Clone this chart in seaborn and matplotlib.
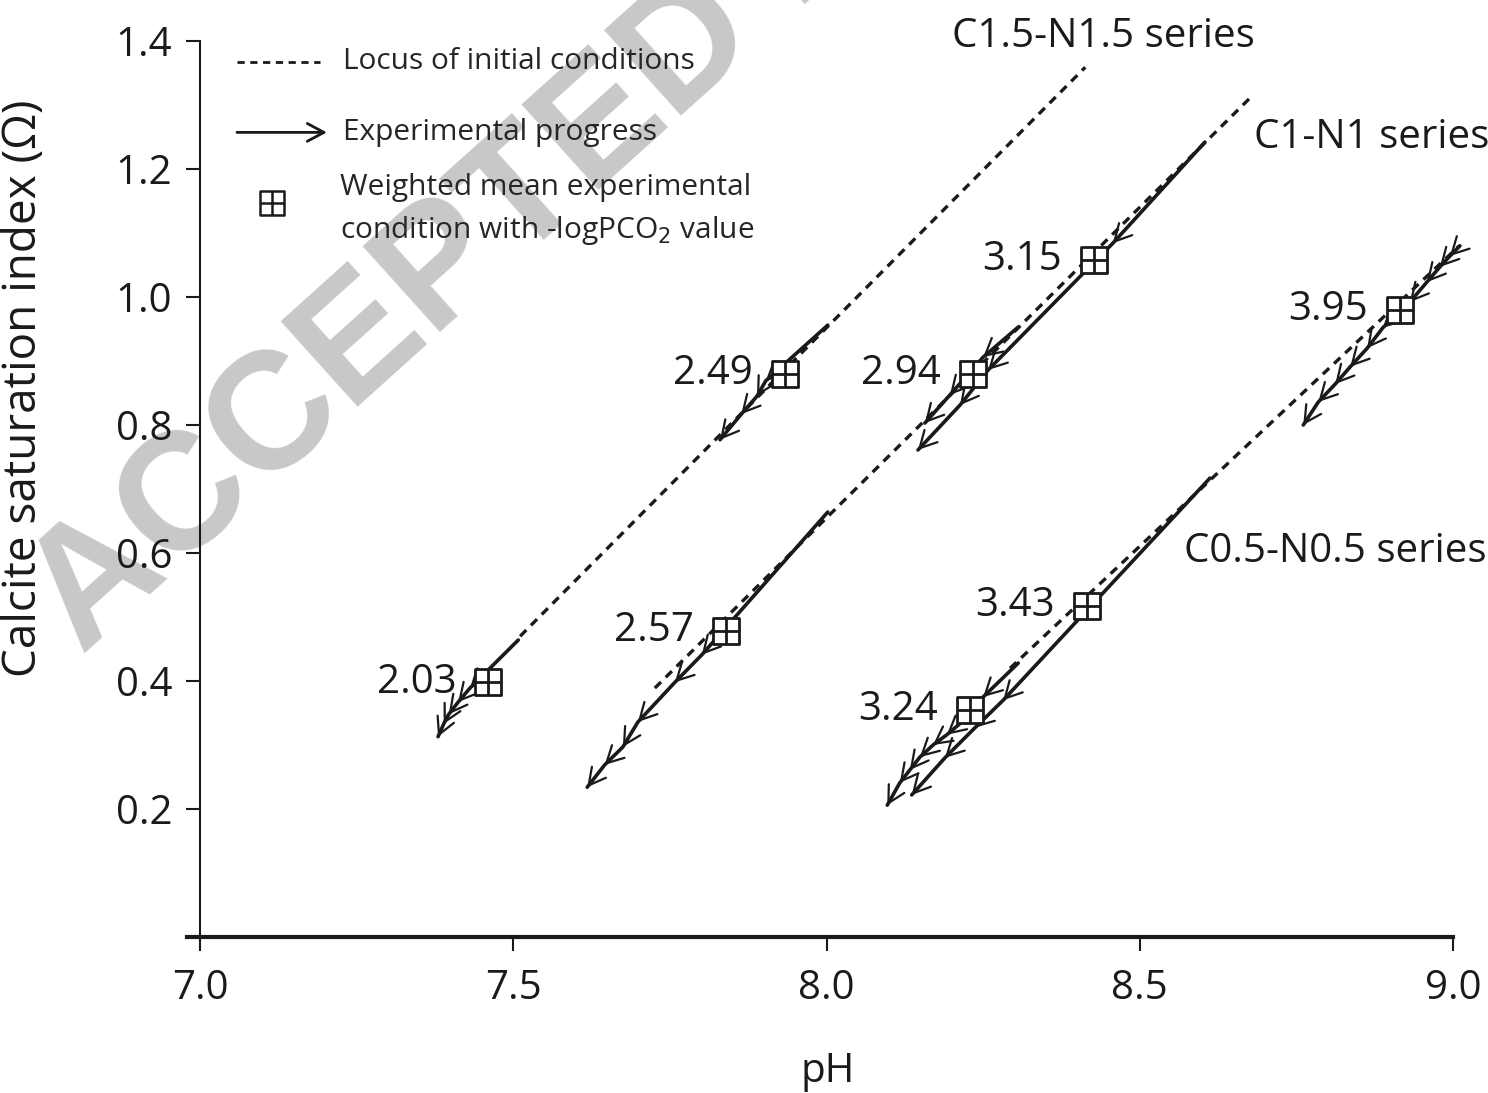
import numpy as np
import pandas as pd
import seaborn as sns
import matplotlib.pyplot as plt

sns.set_style("ticks")
plt.rcParams['font.family'] = ['Open Sans', 'DejaVu Sans']

# Locus of initial conditions (start / end of each dashed line)
locus_series = ['C1.5-N1.5', 'C1.5-N1.5', 'C1-N1', 'C1-N1', 'C0.5-N0.5', 'C0.5-N0.5']
locus_ph = [7.511, 8.413, 7.726, 8.676, 8.293, 9.010]
locus_omega = [0.470, 1.359, 0.389, 1.311, 0.420, 1.080]

# Experimental progress paths (pH, omega), upper right -> lower left
run_203_ph = [7.508, 7.431, 7.412, 7.397, 7.389, 7.380]
run_203_om = [0.464, 0.389, 0.367, 0.348, 0.333, 0.313]
run_249_ph = [8.002, 7.903, 7.889, 7.864, 7.830]
run_249_om = [0.956, 0.869, 0.845, 0.817, 0.777]
run_257_ph = [8.002, 7.801, 7.758, 7.699, 7.675, 7.646, 7.618]
run_257_om = [0.664, 0.441, 0.398, 0.336, 0.297, 0.269, 0.234]
run_294_ph = [8.306, 8.250, 8.197, 8.157]
run_294_om = [0.953, 0.906, 0.847, 0.803]
run_315_ph = [8.604, 8.457, 8.258, 8.213, 8.146]
run_315_om = [1.242, 1.084, 0.886, 0.831, 0.761]
run_324_ph = [8.306, 8.250, 8.216, 8.192, 8.170, 8.149, 8.133, 8.117, 8.097]
run_324_om = [0.428, 0.375, 0.336, 0.316, 0.300, 0.281, 0.261, 0.241, 0.206]
run_343_ph = [8.612, 8.282, 8.237, 8.189, 8.136]
run_343_om = [0.717, 0.370, 0.327, 0.280, 0.222]
run_395_ph = [9.011, 8.995, 8.979, 8.958, 8.931, 8.888, 8.863, 8.836, 8.812, 8.785, 8.761]
run_395_om = [1.080, 1.064, 1.047, 1.023, 0.992, 0.952, 0.920, 0.891, 0.864, 0.836, 0.800]

# Weighted mean experimental conditions with -logPCO2 value
mark_labels = ['2.03', '2.49', '2.57', '2.94', '3.15', '3.24', '3.43', '3.95']
mark_ph = [7.460, 7.934, 7.840, 8.234, 8.427, 8.229, 8.416, 8.915]
mark_omega = [0.398, 0.880, 0.478, 0.880, 1.058, 0.355, 0.517, 0.980]

series_names = ['C1.5-N1.5 series', 'C1-N1 series', 'C0.5-N0.5 series']

fig = plt.figure(figsize=(14.88, 10.93), dpi=100)
ax = fig.add_axes([0.1344, 0.1427, 0.8421, 0.8198])
ax.patch.set_alpha(0)

# watermark
fig.text(0.055, 0.40, 'ACCEPTED MANUSCRIPT', rotation=42, rotation_mode='anchor',
         ha='left', va='baseline', fontsize=120, fontweight='bold',
         family='Liberation Sans', color='#c8c8c8', zorder=-1)

# dashed loci
df_locus = pd.DataFrame({'series': locus_series, 'pH': locus_ph, 'omega': locus_omega})
for name, grp in df_locus.groupby('series', sort=False):
    sns.lineplot(data=grp, x='pH', y='omega', ax=ax, color='#1a1a1a', lw=2.4,
                 linestyle=(0, (2.6, 2.0)), sort=False, estimator=None, clip_on=False)

arrow_kw = dict(arrowstyle='->,head_length=0.6,head_width=0.32', lw=1.6, color='#1a1a1a',
                shrinkA=0, shrinkB=0, mutation_scale=20)


def draw_run(ph, om):
    ax.plot(ph, om, color='#1a1a1a', lw=2.6, zorder=3, clip_on=False)
    for i in range(len(ph) - 1):
        ax.annotate('', xy=(ph[i + 1], om[i + 1]), xytext=(ph[i], om[i]),
                    arrowprops=arrow_kw, zorder=3, annotation_clip=False)


for ph, om in [(run_203_ph, run_203_om), (run_249_ph, run_249_om),
               (run_257_ph, run_257_om), (run_294_ph, run_294_om),
               (run_315_ph, run_315_om), (run_324_ph, run_324_om),
               (run_343_ph, run_343_om), (run_395_ph, run_395_om)]:
    draw_run(ph, om)

# square-with-cross markers
sns.scatterplot(x=mark_ph, y=mark_omega, ax=ax, marker='s', s=340, color='white',
                edgecolor='#1a1a1a', linewidth=2.0, zorder=5)
ax.scatter(mark_ph, mark_omega, marker='+', s=340, color='#1a1a1a', linewidths=2.0, zorder=6)
for lab, x, y in zip(mark_labels, mark_ph, mark_omega):
    ax.annotate(lab, (x, y), xytext=(-23, 0), textcoords='offset points',
                ha='right', va='center', fontsize=29, color='#1a1a1a')

# series labels
ax.text(0.7207, 1.0045, series_names[0], transform=ax.transAxes, ha='center', va='center',
        fontsize=29, color='#1a1a1a')
ax.text(0.9354, 0.8917, series_names[1], transform=ax.transAxes, ha='center', va='center',
        fontsize=29, color='#1a1a1a')
ax.text(0.9058, 0.4297, series_names[2], transform=ax.transAxes, ha='center', va='center',
        fontsize=29, color='#1a1a1a')

# hand-made legend
ax.plot([0.0295, 0.0958], [0.9766, 0.9766], transform=ax.transAxes, color='#1a1a1a',
        lw=2.0, linestyle=(0, (2.6, 2.0)))
ax.text(0.1141, 0.9766, 'Locus of initial conditions', transform=ax.transAxes,
        ha='left', va='center', fontsize=21.5)
ax.annotate('', xy=(0.1013, 0.898), xytext=(0.0295, 0.898), xycoords='axes fraction',
            arrowprops=dict(arrowstyle='->,head_length=0.6,head_width=0.32', lw=2.0,
                            color='#1a1a1a', shrinkA=0, shrinkB=0, mutation_scale=20))
ax.text(0.1141, 0.898, 'Experimental progress', transform=ax.transAxes,
        ha='left', va='center', fontsize=21.5)
ax.scatter([0.0575], [0.819], marker='s', s=300, facecolor='white', edgecolor='#1a1a1a',
           linewidths=1.8, transform=ax.transAxes)
ax.scatter([0.0575], [0.819], marker='+', s=300, color='#1a1a1a', linewidths=1.8,
           transform=ax.transAxes)
ax.text(0.1117, 0.836, 'Weighted mean experimental', transform=ax.transAxes,
        ha='left', va='center', fontsize=21.5)
ax.text(0.1117, 0.789, r'condition with -logPCO$_2$ value', transform=ax.transAxes,
        ha='left', va='center', fontsize=21.5)

# axes
ax.set_xlim(7.0, 9.0)
ax.set_ylim(0.0, 1.4)
ax.set_xticks([7.0, 7.5, 8.0, 8.5, 9.0])
ax.set_xticklabels(['7.0', '7.5', '8.0', '8.5', '9.0'])
ax.set_yticks([0.2, 0.4, 0.6, 0.8, 1.0, 1.2, 1.4])
ax.set_yticklabels(['0.2', '0.4', '0.6', '0.8', '1.0', '1.2', '1.4'])
ax.tick_params(axis='both', direction='out', length=10, width=1.5, labelsize=29,
               colors='#1a1a1a')
ax.tick_params(axis='x', pad=13)
ax.tick_params(axis='y', pad=10)
sns.despine(ax=ax)
ax.spines['left'].set_linewidth(1.5)
ax.spines['bottom'].set_linewidth(3.0)
ax.spines['bottom'].set_bounds(7.0 - 13 / 626.5, 9.0)
ax.spines['left'].set_color('#1a1a1a')
ax.spines['bottom'].set_color('#1a1a1a')

ax.set_xlabel('pH', fontsize=29, color='#1a1a1a')
ax.set_ylabel('Calcite saturation index (Ω)', fontsize=33, color='#1a1a1a')
ax.xaxis.set_label_coords(0.501, -0.128)
ax.yaxis.set_label_coords(-0.122, 0.612)

fig.savefig('out.png', dpi=100)
